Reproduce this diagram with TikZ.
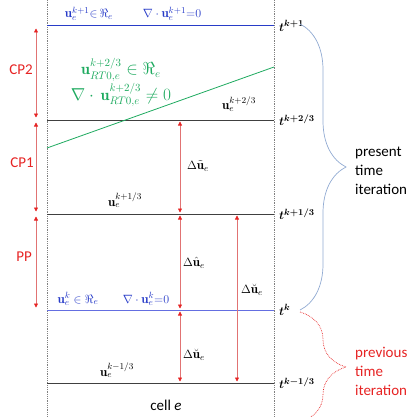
\documentclass[tikz,border=0pt]{standalone}
\usepackage{amsmath,amssymb}
\usepackage{fontspec}
\newfontfamily\calfont{Carlito}
\usepackage{xcolor}
\usepackage{tikz}
\usetikzlibrary{positioning, arrows.meta, decorations.pathreplacing}

\definecolor{topblue}{RGB}{40,60,200}
\definecolor{lowblue}{RGB}{100,110,225}
\definecolor{rtgreen}{RGB}{30,170,95}
\definecolor{stepred}{RGB}{230,35,35}
\definecolor{pinkline}{RGB}{225,115,115}
\definecolor{bracegray}{RGB}{145,170,210}

\tikzset{
  timeline/.style={line width=1pt, black!75},
  cellwall/.style={densely dotted, gray, line width=0.8pt},
  steparrow/.style={pinkline, line width=0.6pt,
    {Triangle[length=4pt,width=4pt,color=stepred]}-{Triangle[length=4pt,width=4pt,color=stepred]},
    shorten <=1.5pt, shorten >=1.5pt},
  mathlbl/.style={font=\fontsize{13}{15}\selectfont, inner sep=0pt},
  greenlbl/.style={font=\fontsize{16}{18}\selectfont, inner sep=0pt, rtgreen},
  timelbl/.style={font=\fontsize{12.5}{14}\selectfont\boldmath, inner sep=0pt, anchor=west, xshift=5pt},
  sanslbl/.style={font=\calfont\fontsize{15}{19}\selectfont, align=left, inner sep=0pt},
  bracepath/.style={decorate, decoration={brace, amplitude=46pt}, line width=0.7pt}
}

\begin{document}
\begin{tikzpicture}[x=1pt, y=-1pt]
  \useasboundingbox (0,0) rectangle (416,417);
  \clip (0,0) rectangle (416,417);

  % Paredes da celula
  \coordinate (wlT) at (47,0);   \coordinate (wlB) at (47,417);
  \coordinate (wrT) at (274,0);  \coordinate (wrB) at (274,417);
  \draw[cellwall] (wlT) -- (wlB);
  \draw[cellwall] (wrT) -- (wrB);

  % Niveis de tempo
  \coordinate (L0) at (47,26);   \coordinate (R0) at (274,26);
  \coordinate (L1) at (47,120);  \coordinate (R1) at (274,120);
  \coordinate (L2) at (47,214);  \coordinate (R2) at (274,214);
  \coordinate (L3) at (47,310);  \coordinate (R3) at (274,310);
  \coordinate (L4) at (47,383);  \coordinate (R4) at (274,383);
  \draw[line width=1pt, topblue] (L0) -- (R0);
  \draw[timeline] (L1) -- (R1);
  \draw[timeline] (L2) -- (R2);
  \draw[line width=1pt, lowblue] (L3) -- (R3);
  \draw[timeline] (L4) -- (R4);

  \node[timelbl] (tk1) at (R0) {$t^{k+1}$};
  \node[timelbl] (tk23) at (R1) {$t^{k+2/3}$};
  \node[timelbl] (tk13) at (R2) {$t^{k+1/3}$};
  \node[timelbl] (tk0) at (R3) {$t^{k}$};
  \node[timelbl] (tkm) at (R4) {$t^{k-1/3}$};

  % Campo RT0
  \coordinate (g0) at (47,148);  \coordinate (g1) at (274,67);
  \draw[rtgreen, line width=0.8pt] (g0) -- (g1);
  \node[greenlbl, anchor=base] (rt1) at (121,75) {$\mathbf{u}^{k+2/3}_{RT0,e}\in\Re_e$};
  \node[greenlbl, anchor=base] (rt2) at (121,100) {$\nabla\cdot\,\mathbf{u}^{k+2/3}_{RT0,e}\neq 0$};

  % Rotulos das velocidades
  \node[mathlbl, topblue, anchor=base] (u1) at (89,18) {$\mathbf{u}_e^{k+1}{\in}\,\Re_e$};
  \node[mathlbl, topblue, anchor=base] (d1) at (172,18) {$\nabla\cdot\mathbf{u}_e^{k+1}{=}0$};
  \node[mathlbl, anchor=base] (u23) at (239,110) {$\mathbf{u}_e^{k+2/3}$};
  \node[mathlbl, anchor=base] (u13) at (125,206) {$\mathbf{u}_e^{k+1/3}$};
  \node[mathlbl, topblue, anchor=base] (u0) at (78,303) {$\mathbf{u}_e^{k}\in\Re_e$};
  \node[mathlbl, topblue, anchor=base] (d0) at (146,303) {$\nabla\cdot\mathbf{u}_e^{k}{=}0$};
  \node[mathlbl, anchor=base] (um) at (117,376) {$\mathbf{u}_e^{k-1/3}$};
  \node[sanslbl, anchor=base] (cell) at (166,410) {cell \textit{e}};

  % Passos CP2, CP1 e PP
  \coordinate (cpx) at (36,0);
  \draw[steparrow, shorten <=2.5pt, shorten >=2.5pt] (cpx |- L0) -- (cpx |- L1);
  \draw[steparrow, shorten <=2.5pt, shorten >=2.5pt] (cpx |- L1) -- (cpx |- L2);
  \draw[steparrow, shorten <=2.5pt, shorten >=2.5pt] (cpx |- L2) -- (cpx |- L3);
  \node[sanslbl, stepred] (cp2) at (21,70) {CP2};
  \node[sanslbl, stepred] (cp1) at (22,163) {CP1};
  \node[sanslbl, stepred] (pp) at (24,257) {PP};

  % Incrementos
  \coordinate (dxa) at (180,0);
  \coordinate (dxb) at (237,0);
  \draw[steparrow] (dxa |- L1) -- (dxa |- L2);
  \draw[steparrow] (dxa |- L2) -- (dxa |- L3);
  \draw[steparrow] (dxa |- L3) -- (dxa |- L4);
  \draw[steparrow] (dxb |- L2) -- (dxb |- L4);
  \node[mathlbl, anchor=west] (dt) at (187,166) {$\Delta\tilde{\mathbf{u}}_e$};
  \node[mathlbl, anchor=west] (dh) at (183,263) {$\Delta\hat{\mathbf{u}}_e$};
  \node[mathlbl, anchor=west] (db) at (183,355) {$\Delta\breve{\mathbf{u}}_e$};
  \node[mathlbl, anchor=west] (dbl) at (241,290) {$\Delta\breve{\mathbf{u}}_e$};

  % Chaves das iteracoes
  \node[sanslbl, anchor=west] (pres) at (355,171) {present\\time\\iteration};
  \node[sanslbl, anchor=west, stepred] (prev) at (355,371) {previous\\time\\iteration};
  \coordinate (bpT) at (300,24);  \coordinate (bpB) at (300,310);
  \coordinate (bqT) at (300,312); \coordinate (bqB) at (300,422);
  \draw[bracepath, bracegray] (bpT) -- (bpB);
  \draw[bracepath, stepred, densely dotted] (bqT) -- (bqB);
\end{tikzpicture}
\end{document}
